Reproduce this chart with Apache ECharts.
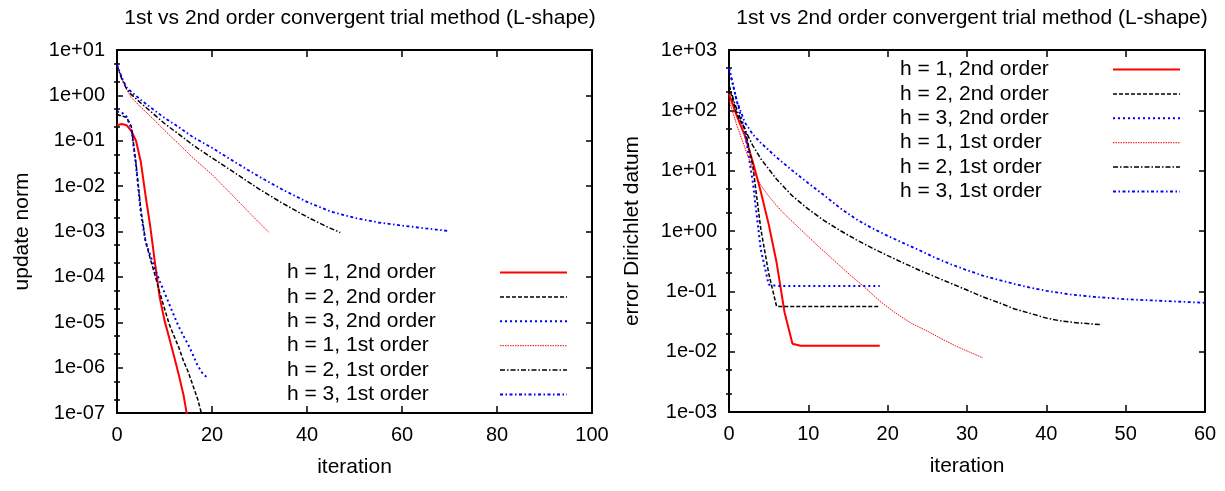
<!DOCTYPE html>
<html>
<head>
<meta charset="utf-8">
<title>1st vs 2nd order convergent trial method (L-shape)</title>
<script src="https://cdn.jsdelivr.net/npm/echarts@6/dist/echarts.min.js"></script>
<style>
html,body{margin:0;padding:0;background:#fff}
#main{width:1225px;height:491px}
</style>
</head>
<body>
<div id="main"></div>
<script>
// series names (same in both panels)
var seriesNames = ['h = 1, 2nd order', 'h = 2, 2nd order', 'h = 3, 2nd order',
                   'h = 1, 1st order', 'h = 2, 1st order', 'h = 3, 1st order'];

// left panel: update norm vs iteration
var updH1_2nd = [[0,0.22],[1,0.235],[2,0.22],[3,0.166],[4,0.1],[5,0.035],[6,0.0063],[7,0.0013],[8,2.0e-4],[9,3.5e-5],[10,1.1e-5],[11,4.5e-6],[12,1.8e-6],[13,7e-7],[14,2.5e-7],[15,6.3e-8]];
var updH2_2nd = [[0,0.38],[1,0.35],[2,0.33],[3,0.21],[4,0.032],[5,0.0032],[6,6.3e-4],[7,2.5e-4],[8,1.1e-4],[9,4.5e-5],[10,2e-5],[11,9e-6],[12,5e-6],[13,2.8e-6],[14,1.4e-6],[15,8e-7],[16,4e-7],[17,2e-7],[18,8e-8]];
var updH3_2nd = [[0,0.44],[1,0.42],[2,0.34],[3,0.19],[4,0.028],[5,0.0026],[6,6e-4],[7,3e-4],[8,1.5e-4],[9,8e-5],[10,4.5e-5],[11,2.5e-5],[12,1.4e-5],[13,8e-6],[14,5e-6],[15,3.2e-6],[16,1.9e-6],[17,1.1e-6],[18,7.5e-7],[19,6e-7]];
var updH1_1st = [[0,4.5],[1,2.4],[2,1.35],[3,0.9],[5,0.55],[7,0.35],[10,0.17],[13,0.085],[16,0.042],[20,0.018],[24,0.0068],[28,0.0025],[32,0.00095]];
var updH2_1st = [[0,4.7],[1,2.3],[2,1.4],[3,1.05],[5,0.68],[7,0.45],[10,0.24],[13,0.14],[16,0.08],[20,0.042],[25,0.019],[30,0.0085],[35,0.0041],[40,0.0021],[44,0.0013],[47,0.00095]];
var updH3_1st = [[0,4.8],[1,2.5],[2,1.5],[3,1.2],[5,0.8],[7,0.55],[10,0.32],[13,0.2],[16,0.12],[20,0.07],[25,0.033],[30,0.016],[35,0.0082],[40,0.0045],[45,0.00275],[50,0.002],[55,0.00158],[60,0.00135],[65,0.00117],[70,0.00102]];

// right panel: error Dirichlet datum vs iteration
var errH1_2nd = [[0,186],[1,80],[2,38],[3,14],[4,4.5],[5,1.3],[6,0.3],[7,0.045],[8,0.0135],[9,0.0125],[12,0.0125],[15,0.0125],[19,0.0125]];
var errH2_2nd = [[0,250],[1,85],[2,50],[3,12],[4,1.1],[5,0.2],[6,0.056],[10,0.056],[15,0.056],[19,0.056]];
var errH3_2nd = [[0,500],[1,140],[2,45],[3,6.5],[4,0.5],[5,0.13],[6,0.123],[10,0.123],[15,0.123],[19,0.123]];
var errH1_1st = [[0,148],[1,56],[2,24],[3,10.5],[4,5.75],[5,3.8],[6,2.63],[7,1.9],[9,1.07],[11,0.6],[13,0.347],[15,0.2],[17,0.12],[19,0.069],[21,0.0437],[23,0.0295],[25,0.0219],[27,0.0158],[29,0.0117],[32,0.0079]];
var errH2_1st = [[0,263],[1,100],[2,48],[3,26],[4,15.8],[6,7.2],[8,3.8],[10,2.3],[12,1.48],[14,1.02],[16,0.72],[18,0.525],[20,0.39],[22,0.295],[24,0.224],[26,0.174],[28,0.135],[30,0.105],[32,0.081],[34,0.065],[36,0.051],[38,0.043],[40,0.036],[42,0.032],[44,0.03],[47,0.028]];
var errH3_1st = [[0,500],[1,141],[2,63],[3,40],[4,29],[6,16.6],[8,10],[10,6.2],[12,3.9],[14,2.4],[16,1.58],[18,1.12],[20,0.83],[22,0.63],[24,0.48],[26,0.36],[28,0.28],[30,0.224],[32,0.182],[34,0.155],[36,0.132],[38,0.115],[40,0.102],[43,0.089],[46,0.081],[50,0.074],[55,0.069],[60,0.0645]];

var leftData = [updH1_2nd, updH2_2nd, updH3_2nd, updH1_1st, updH2_1st, updH3_1st];
var rightData = [errH1_2nd, errH2_2nd, errH3_2nd, errH1_1st, errH2_1st, errH3_1st];

// gnuplot-like line types
var lineTypes = [
    {color: '#ff0000', width: 2, type: 'solid'},
    {color: '#000000', width: 1.5, type: [4, 2]},
    {color: '#0000ff', width: 2, type: [2, 3]},
    {color: '#ff0000', width: 1, type: [1.5, 1]},
    {color: '#000000', width: 1.5, type: [5, 2, 1.5, 2]},
    {color: '#0000ff', width: 1.8, type: [3, 2.5, 1.5, 2.5]}
];

var FONT = '"Liberation Sans", Arial, Helvetica, sans-serif';
var frame = {show: true, onZero: false, lineStyle: {color: '#000', width: 2}};

function expLabel(v) {
    var e = Math.round(Math.log(v) / Math.LN10);
    var a = Math.abs(e);
    return '1e' + (e < 0 ? '-' : '+') + (a < 10 ? '0' + a : a);
}
// minor ticks at 2 and 5 of each decade (log10 space)
function minorTicks(lo, hi) {
    var out = [];
    for (var k = lo; k < hi; k++) {
        out.push(k + Math.log10(2));
        out.push(k + Math.log10(5));
    }
    return out;
}

function xAxes(grid, max, step) {
    return [{
        gridIndex: grid, type: 'value', min: 0, max: max, interval: step, position: 'bottom',
        name: 'iteration', nameLocation: 'middle', nameGap: 44,
        nameTextStyle: {fontSize: 21, color: '#000', fontFamily: FONT},
        axisLine: frame,
        axisTick: {inside: true, length: 7, lineStyle: {color: '#000', width: 1.5}},
        axisLabel: {fontSize: 20, color: '#000', margin: 12, fontFamily: FONT},
        splitLine: {show: false}
    }, {
        gridIndex: grid, type: 'value', min: 0, max: max, interval: step, position: 'top',
        axisLine: frame,
        axisTick: {inside: true, length: 7, lineStyle: {color: '#000', width: 1.5}},
        axisLabel: {show: false},
        splitLine: {show: false}
    }];
}

function yAxes(grid, min, max, lo, hi, name, gap) {
    var major = {
        gridIndex: grid, type: 'log', logBase: 10, min: min, max: max, interval: 1,
        axisLine: frame,
        axisTick: {inside: true, length: 6, lineStyle: {color: '#000', width: 1.5}},
        splitLine: {show: false}
    };
    var minor = {
        gridIndex: grid, type: 'value', min: lo, max: hi,
        axisLine: {show: false},
        axisTick: {inside: true, length: 3, customValues: minorTicks(lo, hi), lineStyle: {color: '#000', width: 1.5}},
        axisLabel: {show: false},
        splitLine: {show: false}
    };
    var left = echarts.util.extend({
        position: 'left', name: name, nameLocation: 'middle', nameGap: gap,
        nameTextStyle: {fontSize: 21, color: '#000', fontFamily: FONT},
        axisLabel: {fontSize: 20, color: '#000', margin: 12, fontFamily: FONT, formatter: expLabel}
    }, major);
    var right = echarts.util.extend({position: 'right', axisLabel: {show: false}}, major);
    return [left,
            echarts.util.extend({position: 'left'}, minor),
            right,
            echarts.util.extend({position: 'right'}, minor)];
}

function makeSeries(data, xi, yi) {
    return data.map(function (d, i) {
        var lt = lineTypes[i];
        return {
            name: seriesNames[i], type: 'line', data: d,
            xAxisIndex: xi, yAxisIndex: yi,
            symbol: 'none', clip: true,
            color: lt.color,
            lineStyle: {color: lt.color, width: lt.width, type: lt.type}
        };
    });
}

function makeLegend(left, top) {
    return {
        orient: 'vertical', left: left, top: top, align: 'right', padding: 0,
        itemWidth: 67, itemHeight: 21, itemGap: 3.4, selectedMode: false,
        data: seriesNames,
        formatter: '{t|{name}}',
        itemStyle: {color: 'rgba(0,0,0,0)', borderColor: 'rgba(0,0,0,0)', borderWidth: 0},
        lineStyle: {width: 'inherit'},
        textStyle: {rich: {t: {width: 208, align: 'left', fontSize: 21, lineHeight: 21, color: '#000', fontFamily: FONT}}}
    };
}

var titleText = '1st vs 2nd order convergent trial method (L-shape)';
var titleStyle = {fontSize: 21, fontWeight: 'normal', color: '#000', fontFamily: FONT};

var myChart = echarts.init(document.getElementById('main'));
var option = {
    animation: false,
    backgroundColor: '#fff',
    title: [
        {text: titleText, left: 355, top: 3, textAlign: 'center', textStyle: titleStyle},
        {text: titleText, left: 967, top: 3, textAlign: 'center', textStyle: titleStyle}
    ],
    legend: [makeLegend(287, 262), makeLegend(900, 59)],
    grid: [
        {left: 117, top: 50, width: 475, height: 363},
        {left: 729, top: 50, width: 476, height: 362}
    ],
    xAxis: xAxes(0, 100, 20).concat(xAxes(1, 60, 10)),
    yAxis: yAxes(0, 1e-7, 10, -7, 1, 'update norm', 84)
        .concat(yAxes(1, 1e-3, 1000, -3, 3, 'error Dirichlet datum', 86)),
    series: makeSeries(leftData, 0, 0).concat(makeSeries(rightData, 2, 4))
};
myChart.setOption(option);
</script>
</body>
</html>
